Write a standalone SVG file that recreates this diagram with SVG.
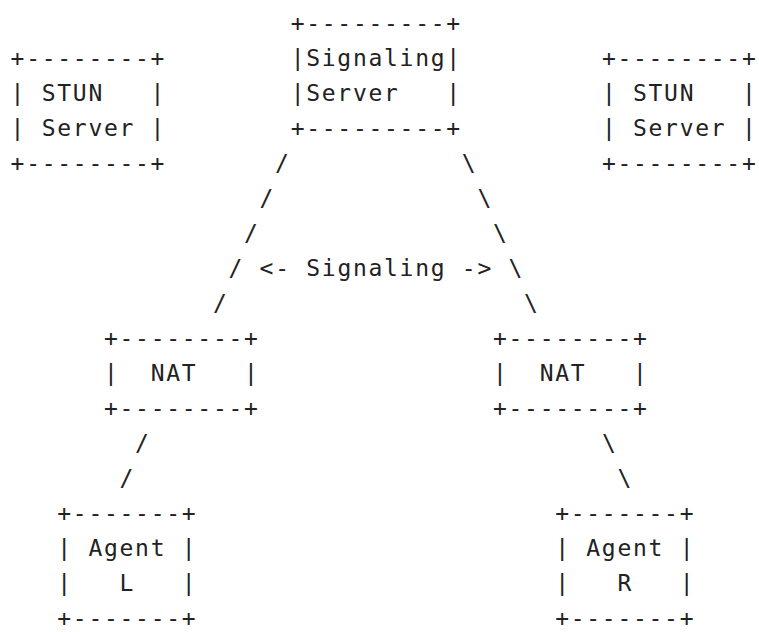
<svg xmlns="http://www.w3.org/2000/svg" width="759" height="632" viewBox="0 0 759 632">
<style>
text{font-family:"DejaVu Sans Mono","Liberation Mono",monospace;font-size:23px;letter-spacing:1.71px;fill:#222;white-space:pre}
</style>
<rect width="759" height="632" fill="#fff"/>
<g id="signaling-server">
<text x="290.7" y="31">+---------+</text>
<text x="290.7" y="66">|Signaling|</text>
<text x="290.7" y="101">|Server   |</text>
<text x="290.7" y="136">+---------+</text>
</g>
<g id="stun-left">
<text x="10.6" y="66">+--------+</text>
<text x="10.6" y="101">| STUN   |</text>
<text x="10.6" y="136">| Server |</text>
<text x="10.6" y="171">+--------+</text>
</g>
<g id="stun-right">
<text x="601.9" y="66">+--------+</text>
<text x="601.9" y="101">| STUN   |</text>
<text x="601.9" y="136">| Server |</text>
<text x="601.9" y="171">+--------+</text>
</g>
<g id="nat-left">
<text x="104.0" y="346">+--------+</text>
<text x="104.0" y="381">|  NAT   |</text>
<text x="104.0" y="416">+--------+</text>
</g>
<g id="nat-right">
<text x="493.0" y="346">+--------+</text>
<text x="493.0" y="381">|  NAT   |</text>
<text x="493.0" y="416">+--------+</text>
</g>
<g id="agent-l">
<text x="57.3" y="521">+-------+</text>
<text x="57.3" y="556">| Agent |</text>
<text x="57.3" y="591">|   L   |</text>
<text x="57.3" y="626">+-------+</text>
</g>
<g id="agent-r">
<text x="555.2" y="521">+-------+</text>
<text x="555.2" y="556">| Agent |</text>
<text x="555.2" y="591">|   R   |</text>
<text x="555.2" y="626">+-------+</text>
</g>
<g id="connectors">
<text x="275.1" y="171">/</text>
<text x="259.6" y="206">/</text>
<text x="244.0" y="241">/</text>
<text x="228.4" y="276">/</text>
<text x="212.9" y="311">/</text>
<text x="461.8" y="171">\</text>
<text x="477.4" y="206">\</text>
<text x="493.0" y="241">\</text>
<text x="508.5" y="276">\</text>
<text x="524.1" y="311">\</text>
<text x="135.1" y="451">/</text>
<text x="119.5" y="486">/</text>
<text x="601.9" y="451">\</text>
<text x="617.4" y="486">\</text>
<text x="259.6" y="276">&lt;- Signaling -&gt;</text>
</g>
</svg>
